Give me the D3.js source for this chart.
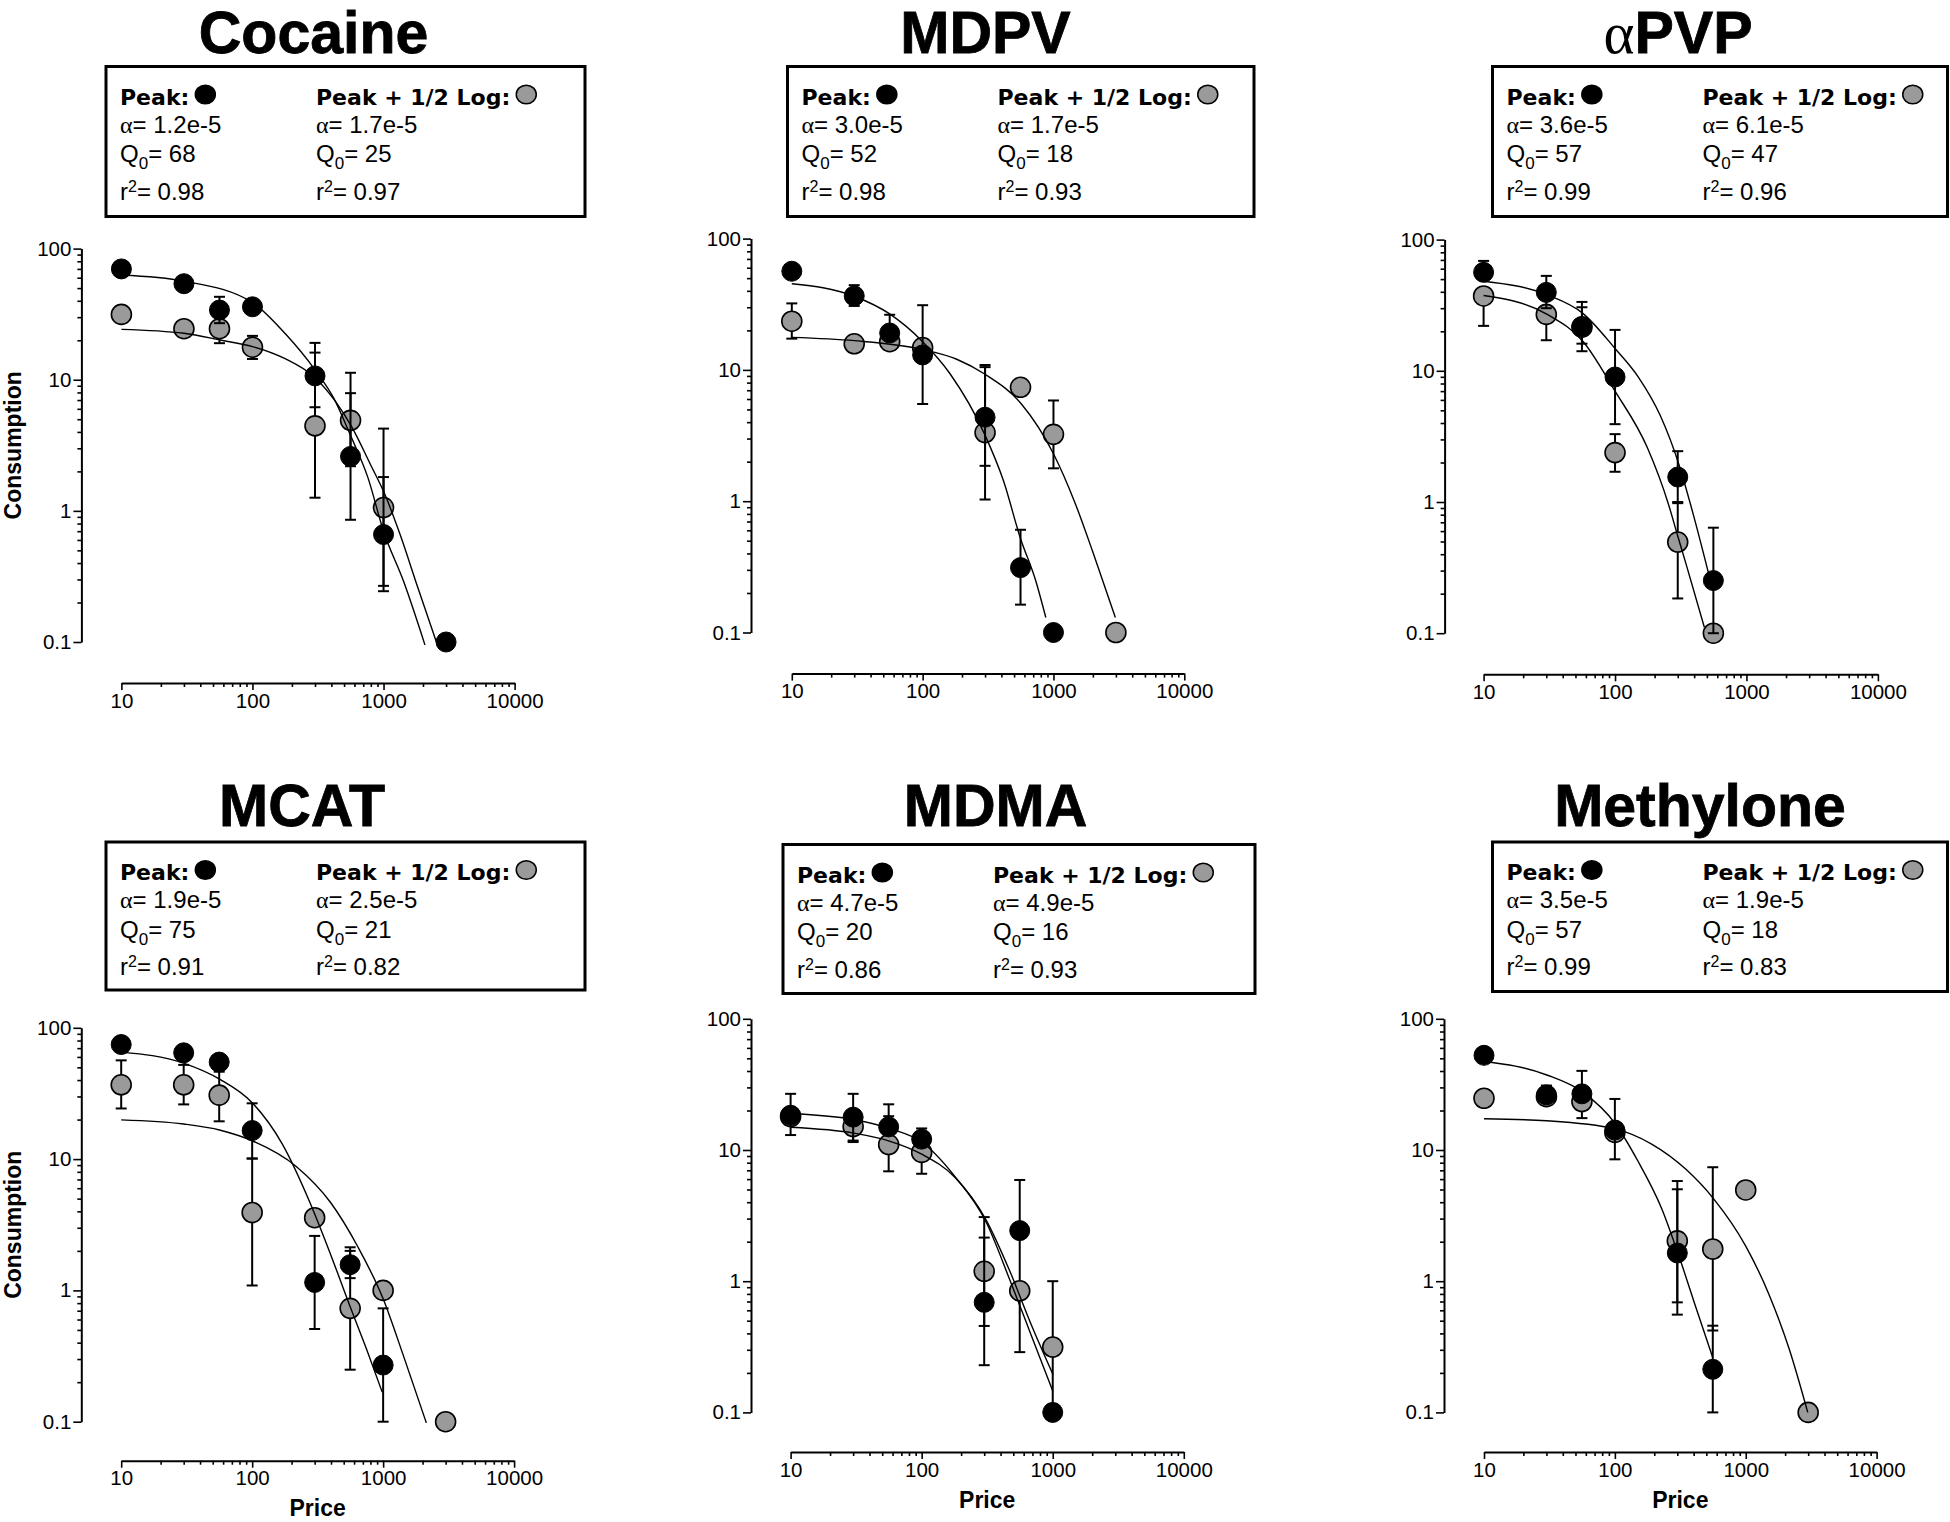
<!DOCTYPE html>
<html>
<head>
<meta charset="utf-8">
<script src="https://cdn.jsdelivr.net/npm/d3@7"></script>
<style>
  html, body { margin: 0; padding: 0; background: #ffffff; }
  svg { display: block; }
</style>
</head>
<body>
<svg id="chart" width="1950" height="1522"></svg>
<script>
// ================= DATA =================
const drugs = ["Cocaine", "MDPV", "αPVP", "MCAT", "MDMA", "Methylone"];
const seriesNames = ["Peak:", "Peak + 1/2 Log:"];
const prices = [10, 30, 56, 100, 300, 560, 1000, 3000];

// Mean consumption (null = no point)
const peakConsumption = [
  [70, 54, 34, 36, 10.7, 2.6, 0.66, 0.1],
  [56.4, 36.6, 19.1, 13.0, 4.36, 0.312, 0.1, null],
  [56.3, 39.6, 21.8, 8.97, 1.55, 0.252, null, null],
  [74.6, 64.5, 54.8, 16.5, 1.15, 1.57, 0.27, null],
  [18.4, 17.8, 15.0, 12.1, 0.69, 2.43, 0.1, null],
  [52.7, 26.3, 26.8, 14.2, 1.64, 0.213, null, null]
];
const halfLogConsumption = [
  [31.5, 24.5, 24.5, 17.7, 4.45, 4.9, 1.06, null],
  [23.5, 15.8, 16.4, 14.8, 3.33, 7.37, 3.23, 0.1],
  [37.2, 26.9, 21.5, 2.38, 0.495, 0.1, null, null],
  [36.8, 36.8, 30.7, 3.92, 3.58, 0.73, 1.0, 0.1],
  [18.0, 15.1, 11.0, 9.59, 1.19, 0.845, 0.315, null],
  [24.8, 25.5, 23.4, 13.6, 2.03, 1.76, 4.96, 0.1]
];

// Error bar ends (upper / lower), null = not shown
const peakErrHigh = [
  [null, null, 42.9, null, 16.1, 7.9, 1.81, null],
  [null, 44.2, 26.3, 31.1, 10.5, 0.606, null, null],
  [68.8, 52.9, 33.5, 20.5, 2.44, 0.637, null, null],
  [null, null, null, 26.6, 2.6, 2.13, 0.73, null],
  [26.8, 20, 18.1, 14.6, 2.15, 5.91, null, null],
  [null, 31, 40.1, 24.5, 5.02, 0.458, null, null]
];
const peakErrLow = [
  [null, null, 27, null, 6.17, 0.855, 0.268, null],
  [null, 30.7, null, 5.5, 1.03, 0.163, null, null],
  [50, 30, 14.1, 3.92, 0.98, 0.1, null, null],
  [null, null, null, 10.1, 0.508, 1.24, 0.1, null],
  [13, 11.8, null, null, 0.229, null, null, null],
  [null, null, null, 8.49, 0.556, 0.1, null, null]
];
const halfLogErrHigh = [
  [null, null, 27, 21.6, 19.1, 11.3, 4.24, null],
  [32.1, null, 18.5, null, 10.9, null, 5.85, null],
  [42, 30, 30.5, 3.29, 1.0, null, null, null],
  [56.5, 52.2, 46.3, 10.1, null, 2.0, null, null],
  [null, 26.8, 22.3, 11, 3.08, 2.3, 1.0, null],
  [null, null, null, null, 5.8, 7.39, null, null]
];
const halfLogErrLow = [
  [null, null, 19, 14.4, 1.26, 2.19, 0.244, null],
  [17.3, null, null, null, 1.86, null, 1.78, null],
  [22, 17.1, 16.1, 1.70, 0.184, null, null, null],
  [24.3, 26.1, 19.4, 1.09, null, 0.249, null, null],
  [null, 11.5, 6.88, 6.59, 0.456, 0.288, 0.115, null],
  [null, null, 17.5, null, 0.69, 0.421, null, null]
];

// Fitted demand curves (price, consumption)
const peakFitPrice = [
  [10, 30, 100, 179, 296, 418, 554, 759, 1000, 1422, 2070],
  [10, 30, 55.6, 100, 162, 298, 415, 558, 732, 874],
  [10, 30.5, 56.9, 100, 150, 220, 308, 397, 515],
  [10, 29.9, 57.2, 100, 170, 276, 397, 570, 772, 984],
  [10, 31, 56.7, 100, 179, 309, 471, 677, 1004],
  [10, 30.2, 56.9, 100, 150, 229, 311, 420, 559]
];
const peakFitConsumption = [
  [62.9, 56.5, 38.8, 22.3, 12.1, 7.2, 3.85, 1.8, 0.7, 0.29, 0.095],
  [45.3, 36.4, 26.8, 16.4, 9.35, 3.23, 1.43, 0.525, 0.248, 0.13],
  [48.2, 37.9, 27.4, 14.8, 9.0, 4.6, 1.9, 0.78, 0.285],
  [65.3, 53.8, 40.3, 26.9, 13, 4.67, 1.88, 0.717, 0.327, 0.168],
  [19.0, 17, 14.6, 11.5, 6.3, 2.85, 1.02, 0.4, 0.144],
  [47.5, 37.3, 27.6, 16, 8.24, 3.54, 1.52, 0.613, 0.263]
];
const halfLogFitPrice = [
  [10, 30, 57.9, 100, 179, 296, 431, 572, 807, 1000, 1334, 1826, 2530],
  [10, 30, 100, 184, 298, 569, 1000, 1462, 2000, 2972],
  [10, 30.5, 56.9, 100, 176, 256, 300, 349, 478],
  [10, 30, 57.2, 100, 217, 397, 644, 1002, 1415, 2138],
  [10, 31, 56.7, 100, 179, 309, 471, 677, 1004],
  [10, 30, 100, 191, 351, 569, 1000, 1500, 2158, 2978]
];
const halfLogFitConsumption = [
  [24.2, 22.6, 20, 17.9, 14.4, 10.5, 6.8, 4.37, 2.19, 1.41, 0.665, 0.26, 0.1],
  [17.7, 16.7, 14.3, 12, 9.3, 5.5, 2.3, 0.97, 0.41, 0.13],
  [37.5, 26.9, 16.8, 7.0, 2.6, 0.95, 0.55, 0.33, 0.111],
  [19.9, 18.5, 16.6, 13.8, 8.79, 4.67, 2.13, 0.86, 0.327, 0.098],
  [14.9, 13.4, 11.7, 9.3, 6.2, 2.95, 1.19, 0.481, 0.195],
  [17.3, 16.7, 14.5, 11.1, 7.09, 4.24, 1.85, 0.8, 0.3, 0.1]
];

// Legend statistics
const peakAlpha = ["1.2e-5", "3.0e-5", "3.6e-5", "1.9e-5", "4.7e-5", "3.5e-5"];
const peakQ0 = ["68", "52", "57", "75", "20", "57"];
const peakR2 = ["0.98", "0.98", "0.99", "0.91", "0.86", "0.99"];
const halfLogAlpha = ["1.7e-5", "1.7e-5", "6.1e-5", "2.5e-5", "4.9e-5", "1.9e-5"];
const halfLogQ0 = ["25", "18", "47", "21", "16", "18"];
const halfLogR2 = ["0.97", "0.93", "0.96", "0.82", "0.93", "0.83"];

// Axes
const xTickValues = [10, 100, 1000, 10000];
const xTickLabels = ["10", "100", "1000", "10000"];
const yTickValues = [0.1, 1, 10, 100];
const yTickLabels = ["0.1", "1", "10", "100"];
const xAxisTitle = "Price";
const yAxisTitle = "Consumption";

// ================= LAYOUT =================
const panelLayout = [
  { yAxisX: 81.4,  xLeft: 121.4, xRight: 514.6,  yTop: 248.6,  yBottom: 642.0,  xAxisY: 683.0,  titleX: 313.5,  titleY: 53,  box: [106, 66.5, 479, 150],    yLabel: true,  xLabel: false },
  { yAxisX: 751.0, xLeft: 791.8, xRight: 1184.3, yTop: 238.6,  yBottom: 632.5,  xAxisY: 673.6,  titleX: 985.5,  titleY: 53,  box: [787.5, 66.5, 466.5, 150], yLabel: false, xLabel: false },
  { yAxisX: 1444.6, xLeft: 1483.6, xRight: 1877.9, yTop: 239.6, yBottom: 633.2, xAxisY: 674.3, titleX: 1678,   titleY: 53,  box: [1492.5, 66.5, 455, 150], yLabel: false, xLabel: false },
  { yAxisX: 81.3,  xLeft: 121.2, xRight: 514.1,  yTop: 1027.8, yBottom: 1421.7, xAxisY: 1460.7, titleX: 302,    titleY: 826, box: [106, 842, 479, 148],      yLabel: true,  xLabel: true },
  { yAxisX: 751.0, xLeft: 790.6, xRight: 1183.8, yTop: 1018.8, yBottom: 1412.4, xAxisY: 1452.0, titleX: 995.5,  titleY: 826, box: [783, 844.5, 472, 149],    yLabel: false, xLabel: true },
  { yAxisX: 1444.0, xLeft: 1484.0, xRight: 1876.6, yTop: 1018.8, yBottom: 1412.4, xAxisY: 1452.0, titleX: 1700, titleY: 826, box: [1492.5, 842, 455, 149.5], yLabel: false, xLabel: true }
];

const SANS = "'Liberation Sans', Arial, Helvetica, sans-serif";
const SERIF = "'Liberation Serif', 'Times New Roman', serif";
const LEGEND_BOLD = "'DejaVu Sans', Verdana, sans-serif";
const GREY = "#9a9a9a";
const R = 10;
const CAP = 5.5;

const svg = d3.select("#chart");
svg.append("rect").attr("width", 1950).attr("height", 1522).attr("fill", "#fff");

function drawErrors(g, x, y, vals, hi, lo) {
  const eg = g.append("g").attr("stroke", "#000").attr("stroke-width", 2).attr("fill", "none");
  prices.forEach((p, j) => {
    const v = vals[j];
    if (v == null) return;
    [hi[j], lo[j]].forEach(e => {
      if (e == null) return;
      eg.append("line").attr("x1", x(p)).attr("x2", x(p)).attr("y1", y(v)).attr("y2", y(e));
      eg.append("line").attr("x1", x(p) - CAP).attr("x2", x(p) + CAP).attr("y1", y(e)).attr("y2", y(e));
    });
  });
}

function drawPoints(g, x, y, vals, fill, strokeW) {
  g.append("g").selectAll("circle")
    .data(prices.map((p, j) => [p, vals[j]]).filter(d => d[1] != null))
    .join("circle")
    .attr("cx", d => x(d[0]))
    .attr("cy", d => y(d[1]))
    .attr("r", R)
    .attr("fill", fill)
    .attr("stroke", "#000")
    .attr("stroke-width", strokeW);
}

function drawCurve(g, x, y, px, py) {
  const line = d3.line().x(d => x(d[0])).y(d => y(d[1])).curve(d3.curveMonotoneX);
  g.append("path")
    .datum(px.map((p, k) => [p, py[k]]))
    .attr("d", line)
    .attr("fill", "none")
    .attr("stroke", "#000")
    .attr("stroke-width", 1.4);
}

function styleAxis(sel) {
  sel.attr("font-family", SANS).attr("font-size", 20.5);
  sel.selectAll(".domain").attr("stroke", "#000").attr("stroke-width", 2);
  sel.selectAll(".tick line").attr("stroke", "#000").attr("stroke-width", 1.6);
  sel.selectAll(".tick text").attr("fill", "#000");
}

drugs.forEach((name, i) => {
  const L = panelLayout[i];
  const g = svg.append("g").attr("class", "panel");
  const x = d3.scaleLog().domain([10, 10000]).range([L.xLeft, L.xRight]);
  const y = d3.scaleLog().domain([0.1, 100]).range([L.yBottom, L.yTop]);

  // ---- Title ----
  const title = g.append("text")
    .attr("x", L.titleX).attr("y", L.titleY)
    .attr("text-anchor", "middle")
    .attr("font-family", SANS).attr("font-weight", "bold").attr("font-size", 59)
    .attr("fill", "#000").attr("stroke", "#000").attr("stroke-width", 0.8);
  if (name.startsWith("α")) {
    title.append("tspan").attr("font-family", SERIF).attr("font-weight", "normal")
      .attr("stroke-width", 0).text("α");
    title.append("tspan").text(name.slice(1));
  } else {
    title.text(name);
  }

  // ---- Legend box ----
  const [bx, by, bw, bh] = L.box;
  g.append("rect").attr("x", bx).attr("y", by).attr("width", bw).attr("height", bh)
    .attr("fill", "none").attr("stroke", "#000").attr("stroke-width", 3);

  const cols = [
    { dx: 14,  name: seriesNames[0], alpha: peakAlpha[i], q0: peakQ0[i], r2: peakR2[i], fill: "#000" },
    { dx: 210, name: seriesNames[1], alpha: halfLogAlpha[i], q0: halfLogQ0[i], r2: halfLogR2[i], fill: GREY }
  ];
  cols.forEach(c => {
    const cx = bx + c.dx;
    const head = g.append("text").attr("x", cx).attr("y", by + 38)
      .attr("font-family", LEGEND_BOLD).attr("font-weight", "bold").attr("font-size", 22)
      .attr("fill", "#000").text(c.name);
    const w = head.node().getComputedTextLength();
    g.append("ellipse").attr("cx", cx + w + 16).attr("cy", by + 28)
      .attr("rx", 10).attr("ry", 9.3)
      .attr("fill", c.fill).attr("stroke", "#000").attr("stroke-width", 1.5);

    const a = g.append("text").attr("x", cx).attr("y", by + 66)
      .attr("font-family", SANS).attr("font-size", 24).attr("fill", "#000");
    a.append("tspan").attr("font-family", SERIF).text("α");
    a.append("tspan").text("= " + c.alpha);

    const q = g.append("text").attr("x", cx).attr("y", by + 95.5)
      .attr("font-family", SANS).attr("font-size", 24).attr("fill", "#000");
    q.append("tspan").text("Q");
    q.append("tspan").attr("font-size", 17).attr("dy", 7).text("0");
    q.append("tspan").attr("dy", -7).text("= " + c.q0);

    const r = g.append("text").attr("x", cx).attr("y", by + 133)
      .attr("font-family", SANS).attr("font-size", 24).attr("fill", "#000");
    r.append("tspan").text("r");
    r.append("tspan").attr("font-size", 16).attr("dy", -8).text("2");
    r.append("tspan").attr("dy", 8).text("= " + c.r2);
  });

  // ---- Axes ----
  const yMinorVals = y.ticks().filter(v => !yTickValues.some(m => Math.abs(m - v) < 1e-9));
  const xMinorVals = x.ticks().filter(v => !xTickValues.some(m => Math.abs(m - v) < 1e-9));

  const yMinor = g.append("g").attr("transform", `translate(${L.yAxisX},0)`)
    .call(d3.axisLeft(y).tickValues(yMinorVals).tickSize(4).tickFormat(""));
  yMinor.select(".domain").remove();
  styleAxis(yMinor);
  const yMajor = g.append("g").attr("transform", `translate(${L.yAxisX},0)`)
    .call(d3.axisLeft(y).tickValues(yTickValues).tickSize(8).tickSizeOuter(0).tickPadding(2)
      .tickFormat((d, k) => yTickLabels[k]));
  styleAxis(yMajor);

  const xMinor = g.append("g").attr("transform", `translate(0,${L.xAxisY})`)
    .call(d3.axisBottom(x).tickValues(xMinorVals).tickSize(4).tickFormat(""));
  xMinor.select(".domain").remove();
  styleAxis(xMinor);
  const xMajor = g.append("g").attr("transform", `translate(0,${L.xAxisY})`)
    .call(d3.axisBottom(x).tickValues(xTickValues).tickSize(7).tickSizeOuter(0).tickPadding(3)
      .tickFormat((d, k) => xTickLabels[k]));
  styleAxis(xMajor);

  if (L.yLabel) {
    const cy = (L.yTop + L.yBottom) / 2;
    g.append("text")
      .attr("transform", `translate(21,${cy}) rotate(-90)`)
      .attr("text-anchor", "middle")
      .attr("font-family", SANS).attr("font-weight", "bold").attr("font-size", 23)
      .attr("fill", "#000").text(yAxisTitle);
  }
  if (L.xLabel) {
    g.append("text")
      .attr("x", (L.xLeft + L.xRight) / 2).attr("y", L.xAxisY + 55.5)
      .attr("text-anchor", "middle")
      .attr("font-family", SANS).attr("font-weight", "bold").attr("font-size", 23)
      .attr("fill", "#000").text(xAxisTitle);
  }

  // ---- Data ----
  drawErrors(g, x, y, halfLogConsumption[i], halfLogErrHigh[i], halfLogErrLow[i]);
  drawPoints(g, x, y, halfLogConsumption[i], GREY, 1.6);
  drawErrors(g, x, y, peakConsumption[i], peakErrHigh[i], peakErrLow[i]);
  drawPoints(g, x, y, peakConsumption[i], "#000", 1);
  drawCurve(g, x, y, peakFitPrice[i], peakFitConsumption[i]);
  drawCurve(g, x, y, halfLogFitPrice[i], halfLogFitConsumption[i]);
});
</script>
</body>
</html>
